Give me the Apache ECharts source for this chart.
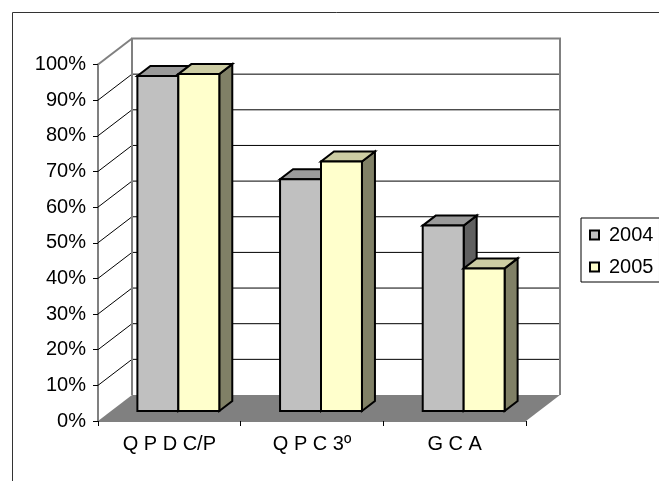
<!DOCTYPE html>
<html>
<head>
<meta charset="utf-8">
<script src="https://cdn.jsdelivr.net/npm/echarts@6/dist/echarts.min.js"></script>
<style>
    html, body { margin: 0; padding: 0; background: #fff; }
    #chart { width: 659px; height: 481px; }
</style>
</head>
<body>
<div id="chart"></div>
<script>
// du lieu
var categories = ['Q P D C/P', 'Q P C 3º', 'G C A'];
var seriesNames = ['2004', '2005'];
var values2004 = [94, 65, 52];
var values2005 = [94.5, 70, 40];
var yTicks = [0, 10, 20, 30, 40, 50, 60, 70, 80, 90, 100];

// mau sac: mat truoc, mat tren, mat ben
var faceColors = [
    { front: '#c0c0c0', top: '#9a9a9a', side: '#606060' },
    { front: '#ffffcc', top: '#cccca3', side: '#808066' }
];

// do sau 3D (pixel)
var DX = 34, DY = -26;        // tuong sau / san
var BX = 9, BY = -10;         // mat truoc cua cot
var DBX = 13, DBY = -10;      // do sau cua cot
var BAR_FRAC = 0.287;         // be rong cot / be rong nhom

var chart = echarts.init(document.getElementById('chart'));

function renderWalls(params, api) {
    var cs = params.coordSys;
    var x0 = cs.x, x1 = cs.x + cs.width;
    var yb = api.coord([0, 0])[1];
    var yt = api.coord([0, 100])[1];
    var children = [];

    // san nha
    children.push({
        type: 'polygon',
        shape: { points: [[x0, yb], [x1, yb], [x1 + DX, yb + DY], [x0 + DX, yb + DY]] },
        style: { fill: '#808080', stroke: null }
    });

    // duong luoi: tuong trai + tuong sau
    yTicks.forEach(function (t) {
        if (t === 0 || t === 100) return;
        var y = api.coord([0, t])[1];
        children.push({
            type: 'polyline',
            shape: { points: [[x0, y], [x0 + DX, y + DY], [x1 + DX, y + DY]] },
            style: { stroke: '#000', lineWidth: 1, fill: null }
        });
    });

    // vien tuong sau
    children.push({
        type: 'polyline',
        shape: { points: [[x0 + DX, yb + DY], [x0 + DX, yt + DY], [x1 + DX, yt + DY], [x1 + DX, yb + DY]] },
        style: { stroke: '#808080', lineWidth: 2, fill: null }
    });
    children.push({
        type: 'line',
        shape: { x1: x0, y1: yt, x2: x0 + DX, y2: yt + DY },
        style: { stroke: '#808080', lineWidth: 2 }
    });

    return { type: 'group', children: children };
}

function makeBarRenderer(j) {
    return function (params, api) {
        var i = api.value(0);
        var base = api.coord([i, 0]);
        var top = api.coord([i, api.value(1)])[1];
        var w = api.size([1, 0])[0] * BAR_FRAC;
        var left = base[0] + BX + (j - 1) * w;
        var right = left + w;
        var yb = base[1] + BY;
        var yt = top + BY;
        var c = faceColors[j];
        var st = { stroke: '#000', lineWidth: 2, lineJoin: 'miter' };
        return {
            type: 'group',
            children: [
                {
                    type: 'polygon',
                    shape: { points: [[right, yt], [right + DBX, yt + DBY], [right + DBX, yb + DBY], [right, yb]] },
                    style: Object.assign({ fill: c.side }, st)
                },
                {
                    type: 'polygon',
                    shape: { points: [[left, yt], [right, yt], [right + DBX, yt + DBY], [left + DBX, yt + DBY]] },
                    style: Object.assign({ fill: c.top }, st)
                },
                {
                    type: 'rect',
                    shape: { x: left, y: yt, width: w, height: yb - yt },
                    style: Object.assign({ fill: c.front }, st)
                }
            ]
        };
    };
}

var option = {
    animation: false,
    textStyle: { fontFamily: 'Arial, "Liberation Sans", sans-serif' },
    grid: {
        left: 98,
        right: 133,
        top: 64.5,
        bottom: 60
    },
    graphic: [
        {
            type: 'rect',
            left: 10,
            top: 10,
            shape: { width: 700, height: 500 },
            style: { fill: null, stroke: '#333', lineWidth: 1 },
            z: 100
        }
    ],
    legend: {
        orient: 'vertical',
        left: 581,
        top: 218,
        padding: [7, 6, 5, 8],
        itemGap: 12,
        itemWidth: 9,
        itemHeight: 9,
        borderColor: '#000',
        borderWidth: 1,
        textStyle: { fontSize: 20, color: '#000', padding: [0, 0, 0, 5] },
        data: seriesNames.map(function (n, j) {
            return {
                name: n,
                icon: 'rect',
                itemStyle: { color: faceColors[j].front, borderColor: '#000', borderWidth: 2 }
            };
        })
    },
    xAxis: {
        type: 'category',
        data: categories,
        boundaryGap: true,
        axisLine: { show: true, lineStyle: { color: '#808080', width: 1 } },
        axisTick: { show: true, length: 5, lineStyle: { color: '#000' } },
        axisLabel: { fontSize: 20, color: '#000', margin: 13 },
        splitLine: { show: false }
    },
    yAxis: {
        type: 'value',
        min: 0,
        max: 100,
        interval: 10,
        axisLine: { show: true, lineStyle: { color: '#808080', width: 2 } },
        axisTick: { show: true, length: 5, lineStyle: { color: '#000' } },
        axisLabel: { fontSize: 20, color: '#000', margin: 12, formatter: '{value}%' },
        splitLine: { show: false }
    },
    series: [
        {
            type: 'custom',
            z: 1,
            silent: true,
            renderItem: renderWalls,
            data: [[0, 0]]
        },
        {
            name: seriesNames[0],
            type: 'custom',
            z: 3,
            itemStyle: { color: faceColors[0].front },
            renderItem: makeBarRenderer(0),
            data: values2004.map(function (v, i) { return [i, v]; })
        },
        {
            name: seriesNames[1],
            type: 'custom',
            z: 3,
            itemStyle: { color: faceColors[1].front },
            renderItem: makeBarRenderer(1),
            data: values2005.map(function (v, i) { return [i, v]; })
        }
    ]
};

chart.setOption(option);
</script>
</body>
</html>
